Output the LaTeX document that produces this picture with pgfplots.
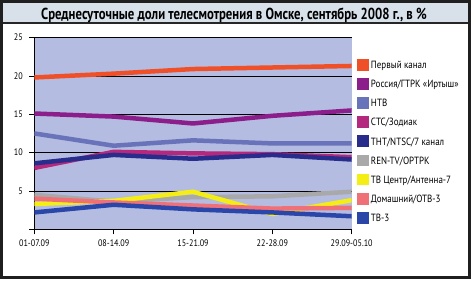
\documentclass[border=0pt]{standalone}
\usepackage{fontspec}
\setmainfont{PT Sans}
\newfontfamily\titlefont{PT Sans}[FakeStretch=0.8]
\newfontfamily\condfont{PT Sans}[FakeStretch=0.86]
\usepackage{pgfplots}
\pgfplotsset{compat=1.18}
\definecolor{plotbg}{RGB}{180,188,225}
\definecolor{bandbg}{RGB}{216,225,234}
\definecolor{cA}{RGB}{240,80,40}
\definecolor{cB}{RGB}{140,30,140}
\definecolor{cC}{RGB}{105,115,185}
\definecolor{cD}{RGB}{180,40,125}
\definecolor{cE}{RGB}{40,45,140}
\definecolor{cF}{RGB}{169,169,169}
\definecolor{cG}{RGB}{245,238,20}
\definecolor{cH}{RGB}{240,112,120}
\definecolor{cI}{RGB}{42,70,168}
\begin{document}
\begin{tikzpicture}
\useasboundingbox (0,0) rectangle (472bp,282bp);
\fill[bandbg] (3bp,279bp) rectangle (468bp,259bp);
\draw[line width=2bp,black!85] (3bp,259bp) -- (468bp,259bp);
\node[inner sep=0pt, anchor=base, font=\titlefont\bfseries\fontsize{16}{16}\selectfont] at (234bp,262bp) {Среднесуточные доли телесмотрения в Омске, сентябрь 2008 г., в \%};
\begin{axis}[
  at={(34.3bp,52.7bp)}, anchor=south west,
  scale only axis, width=317.4bp, height=191.7bp,
  xmin=0, xmax=4, ymin=0, ymax=25,
  axis x line*=bottom, axis y line*=left,
  axis line style={-, black, line width=0.8bp},
  axis background/.style={fill=plotbg},
  ytick={0,5,10,15,20,25}, yticklabels={,5,10,15,20,25},
  xtick={0,1,2,3,4}, xticklabels={01-07.09,08-14.09,15-21.09,22-28.09,29.09-05.10},
  ymajorgrids, grid style={black, line width=0.8bp},
  tick align=outside, major tick length=5bp,
  tick style={black, line width=0.8bp},
  /pgf/number format/assume math mode=true,
  ticklabel style={font=\condfont\fontsize{9.5}{11}\selectfont},
  yticklabel style={xshift=-3bp},
  xticklabel style={yshift=-1.5bp},
  no markers,
  every axis plot/.append style={line width=4.5bp},
  legend image code/.code={\fill[#1] (0bp,-3.65bp) rectangle (7.3bp,3.65bp); \path (9.5bp,0bp);},
  legend style={at={(axis description cs:1.0167,0.888)}, anchor=north west,
    draw=none, fill=none, inner sep=0pt, outer sep=0pt,
    font=\condfont\fontsize{10.5}{12}\selectfont,
    row sep=7.3bp, column sep=0pt,
    nodes={inner sep=0pt, text height=7.3bp, text depth=0bp},
    cells={anchor=west}},
]
\addplot[cA] coordinates {(0,19.8) (1,20.3) (2,20.9) (3,21.1) (4,21.3)};
\addlegendentry{Первый канал}
\addplot[cB] coordinates {(0,15.1) (1,14.7) (2,13.8) (3,14.8) (4,15.5)};
\addlegendentry{Россия/ГТРК «Иртыш»}
\addplot[cC] coordinates {(0,12.5) (1,10.9) (2,11.6) (3,11.2) (4,11.2)};
\addlegendentry{НТВ}
\addplot[cD] coordinates {(0,8.0) (1,10.1) (2,9.9) (3,9.8) (4,9.4)};
\addlegendentry{СТС/Зодиак}
\addplot[cE] coordinates {(0,8.6) (1,9.7) (2,9.2) (3,9.7) (4,9.1)};
\addlegendentry{ТНТ/NTSC/7 канал}
\addplot[cF] coordinates {(0,4.5) (1,3.6) (2,4.2) (3,4.3) (4,4.9)};
\addlegendentry{REN-TV/ОРТРК}
\addplot[cG] coordinates {(0,3.3) (1,3.7) (2,4.9) (3,2.0) (4,3.8)};
\addlegendentry{ТВ Центр/Антенна-7}
\addplot[cH] coordinates {(0,4.0) (1,3.5) (2,3.1) (3,2.7) (4,2.8)};
\addlegendentry{Домашний/ОТВ-3}
\addplot[cI] coordinates {(0,2.2) (1,3.2) (2,2.6) (3,2.2) (4,1.7)};
\addlegendentry{ТВ-3}
\end{axis}
\draw[line width=3bp,black!88] (1.5bp,4.7bp) rectangle (469.5bp,280.5bp);
\end{tikzpicture}
\end{document}
